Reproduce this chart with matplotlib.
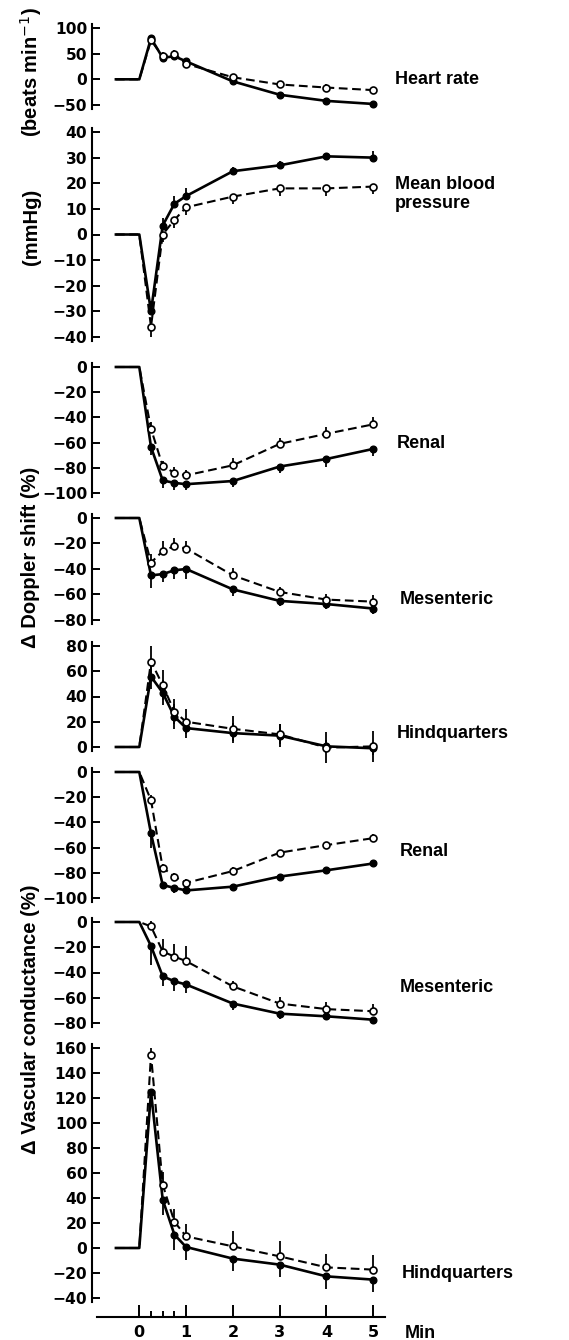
import matplotlib
matplotlib.use("Agg")
import matplotlib.pyplot as plt

# ---------------- data ----------------
time_min = [0.25, 0.5, 0.75, 1, 2, 3, 4, 5]
baseline_t = [-0.5, 0.0]
x_ticks = [0, 1, 2, 3, 4, 5]
x_minor_ticks = [0.25, 0.5, 0.75]

# Heart rate (beats/min)
hr_filled = [80, 42, 45, 35, -4, -30, -42, -48]
hr_open = [76, 45, 50, 30, 4, -10, -16, -21]
hr_filled_err = [10, 8, 8, 6, 6, 6, 5, 7]
hr_open_err = [10, 8, 8, 8, 6, 7, 6, 5]

# Mean blood pressure (mmHg)
mbp_filled = [-30, 3.5, 12, 15, 24.7, 27, 30.5, 30]
mbp_open = [-36, 0, 5.7, 10.6, 14.8, 18, 18, 18.7]
mbp_filled_err = [4, 3, 3, 3, 1.5, 1.5, 1.5, 2.5]
mbp_open_err = [4, 3, 3, 3, 3, 3, 3, 3]

# Doppler shift (%)
rd_filled = [-63.5, -90, -92, -93, -90.5, -79, -73, -65]
rd_open = [-49, -78.6, -84, -86, -78, -61, -53, -45.5]
rd_filled_err = [6, 6, 6, 5, 5, 5, 6, 6]
rd_open_err = [5, 4, 5, 4, 6, 5, 5, 6]

md_filled = [-45, -44, -41, -40, -56, -65, -67.5, -71]
md_open = [-35, -26, -22, -24, -45, -58, -64, -65.6]
md_filled_err = [10, 6, 7, 8, 5, 4, 4, 4]
md_open_err = [7, 8, 6, 6, 6, 4, 4, 5]

hd_filled = [55.8, 43, 24, 15, 11, 9, 0.5, -1]
hd_open = [67.7, 49, 28, 20, 14.4, 10, -0.5, 0.5]
hd_filled_err = [10, 10, 10, 8, 8, 9, 5, 5]
hd_open_err = [12, 12, 10, 10, 10, 8, 12, 12]

# Vascular conductance (%)
rv_filled = [-48.7, -89.7, -92, -94, -91, -83, -78, -72.6]
rv_open = [-22.4, -76, -83, -88, -78.6, -64, -58, -52.5]
rv_filled_err = [12, 3, 4, 3, 2, 2, 2, 2]
rv_open_err = [4, 3, 3, 3, 3, 2, 2, 3]

mv_filled = [-19, -43, -47, -49.5, -64.6, -72.6, -74.7, -77.4]
mv_open = [-3.5, -23.4, -27.4, -31, -51, -64.6, -69, -70.7]
mv_filled_err = [15, 8, 8, 7, 5, 4, 3, 3]
mv_open_err = [4, 10, 10, 12, 4, 5, 6, 6]

hv_filled = [125, 38.7, 10.7, 0.8, -8.5, -13.3, -22.7, -25.3]
hv_open = [154.7, 50.7, 21, 9.3, 1.3, -6.7, -15.5, -17.3]
hv_filled_err = [10, 12, 12, 10, 10, 10, 10, 10]
hv_open_err = [5, 10, 10, 10, 12, 12, 11, 12]

panel_labels = ["Heart rate", "Mean blood\npressure", "Renal", "Mesenteric",
                "Hindquarters", "Renal", "Mesenteric", "Hindquarters"]
panel_ticks = [
    [100, 50, 0, -50],
    [40, 30, 20, 10, 0, -10, -20, -30, -40],
    [0, -20, -40, -60, -80, -100],
    [0, -20, -40, -60, -80],
    [80, 60, 40, 20, 0],
    [0, -20, -40, -60, -80, -100],
    [0, -20, -40, -60, -80],
    [160, 140, 120, 100, 80, 60, 40, 20, 0, -20, -40],
]
y_axis_labels = ["(beats min$^{-1}$)", "(mmHg)", "\u0394 Doppler shift (%)",
                 "\u0394 Vascular conductance (%)"]

series = [
    (hr_filled, hr_filled_err, hr_open, hr_open_err),
    (mbp_filled, mbp_filled_err, mbp_open, mbp_open_err),
    (rd_filled, rd_filled_err, rd_open, rd_open_err),
    (md_filled, md_filled_err, md_open, md_open_err),
    (hd_filled, hd_filled_err, hd_open, hd_open_err),
    (rv_filled, rv_filled_err, rv_open, rv_open_err),
    (mv_filled, mv_filled_err, mv_open, mv_open_err),
    (hv_filled, hv_filled_err, hv_open, hv_open_err),
]

# ---------------- layout / style ----------------
W, H, DPI = 569, 1340, 100
fig = plt.figure(figsize=(W / DPI, H / DPI), dpi=DPI)
fig.patch.set_facecolor("white")

LEFT_PX, RIGHT_PX = 92, 385
X0_PX, PX_PER_MIN = 139.3, 46.8
xlim = ((LEFT_PX - X0_PX) / PX_PER_MIN, (RIGHT_PX - X0_PX) / PX_PER_MIN)

# pixel rows of top and bottom tick of each panel
panel_px = [(28, 105), (132, 337), (367, 493), (518, 620), (646, 747),
            (772, 898), (922, 1023), (1048, 1298)]
label_px = [(395, 79), (395, 194), (397, 444), (400, 600), (397, 733),
            (400, 852), (400, 987), (402, 1273)]
err_dirs = [("down", "up"), ("up", "down"), ("down", "up"), ("down", "up"),
            ("both", "both"), ("down", "up"), ("down", "up"), ("down", "up")]
ylab_px = [(31, 72), (31, 227), (31, 557), (31, 1019)]

TICK_FONT = "DejaVu Sans"
LABEL_FONT = ["Liberation Sans", "DejaVu Sans"]
PAD = 4


def split_err(err, d):
    zeros = [0] * len(err)
    if d == "down":
        return [err, zeros]
    if d == "up":
        return [zeros, err]
    return [err, err]


axes = []
for i, ((top_px, bot_px), ticks) in enumerate(zip(panel_px, panel_ticks)):
    tmax, tmin = max(ticks), min(ticks)
    scale = (bot_px - top_px) / (tmax - tmin)
    ax = fig.add_axes([LEFT_PX / W, 1 - (bot_px + PAD) / H,
                       (RIGHT_PX - LEFT_PX) / W, (bot_px - top_px + 2 * PAD) / H])
    ax.set_ylim(tmin - PAD / scale, tmax + PAD / scale)
    ax.set_xlim(xlim)
    ax.patch.set_visible(False)
    for s in ["top", "right", "bottom"]:
        ax.spines[s].set_visible(False)
    ax.spines["left"].set_linewidth(1.5)
    ax.set_yticks(ticks)
    ax.tick_params(axis="y", direction="in", length=6, width=1.4, pad=3.5,
                   labelsize=11.2)
    for lbl in ax.get_yticklabels():
        lbl.set_fontweight("bold")
        lbl.set_fontfamily(TICK_FONT)
    ax.set_xticks([])

    f_vals, f_err, o_vals, o_err = series[i]
    fd, od = err_dirs[i]
    ax.errorbar(time_min, f_vals, yerr=split_err(f_err, fd), fmt="none",
                ecolor="black", elinewidth=1.3, capsize=0, clip_on=False, zorder=2)
    ax.errorbar(time_min, o_vals, yerr=split_err(o_err, od), fmt="none",
                ecolor="black", elinewidth=1.3, capsize=0, clip_on=False, zorder=2)
    ax.plot(baseline_t + time_min, [0, 0] + f_vals, color="black", lw=1.9,
            solid_joinstyle="round", clip_on=False, zorder=3)
    ax.plot(baseline_t + time_min, [0, 0] + o_vals, color="black", lw=1.5,
            linestyle=(0, (4.2, 2.2)), clip_on=False, zorder=4)
    ax.plot(time_min, f_vals, "o", color="black", ms=4.8, clip_on=False, zorder=5)
    ax.plot(time_min, o_vals, "o", mfc="white", mec="black", mew=1.2, ms=5,
            clip_on=False, zorder=6)

    lx, ly = label_px[i]
    fig.text(lx / W, 1 - ly / H, panel_labels[i], ha="left", va="center",
             fontsize=13, fontweight="bold", family=LABEL_FONT, linespacing=1.15)
    axes.append(ax)

# bottom time axis
axb = axes[-1]
axb.spines["bottom"].set_visible(True)
axb.spines["bottom"].set_linewidth(1.5)
axb.spines["bottom"].set_position(("outward", 15 * 72 / DPI))
axb.spines["bottom"].set_bounds((96.7 - X0_PX) / PX_PER_MIN, (385 - X0_PX) / PX_PER_MIN)
axb.set_xticks(x_ticks)
axb.set_xticks(x_minor_ticks, minor=True)
axb.tick_params(axis="x", which="major", direction="in", length=8.5, width=1.4,
                pad=6, labelsize=11.5)
axb.tick_params(axis="x", which="minor", direction="in", length=4.3, width=1.4)
for lbl in axb.get_xticklabels():
    lbl.set_fontweight("bold")
    lbl.set_fontfamily(TICK_FONT)
fig.text(405 / W, 1 - 1333 / H, "Min", ha="left", va="center", fontsize=13,
         fontweight="bold", family=LABEL_FONT)

for txt, (x, y) in zip(y_axis_labels, ylab_px):
    fig.text(x / W, 1 - y / H, txt, rotation=90, ha="center", va="center",
             fontsize=14.5, fontweight="bold", family=LABEL_FONT)

fig.savefig("out.png", dpi=DPI, facecolor="white")
